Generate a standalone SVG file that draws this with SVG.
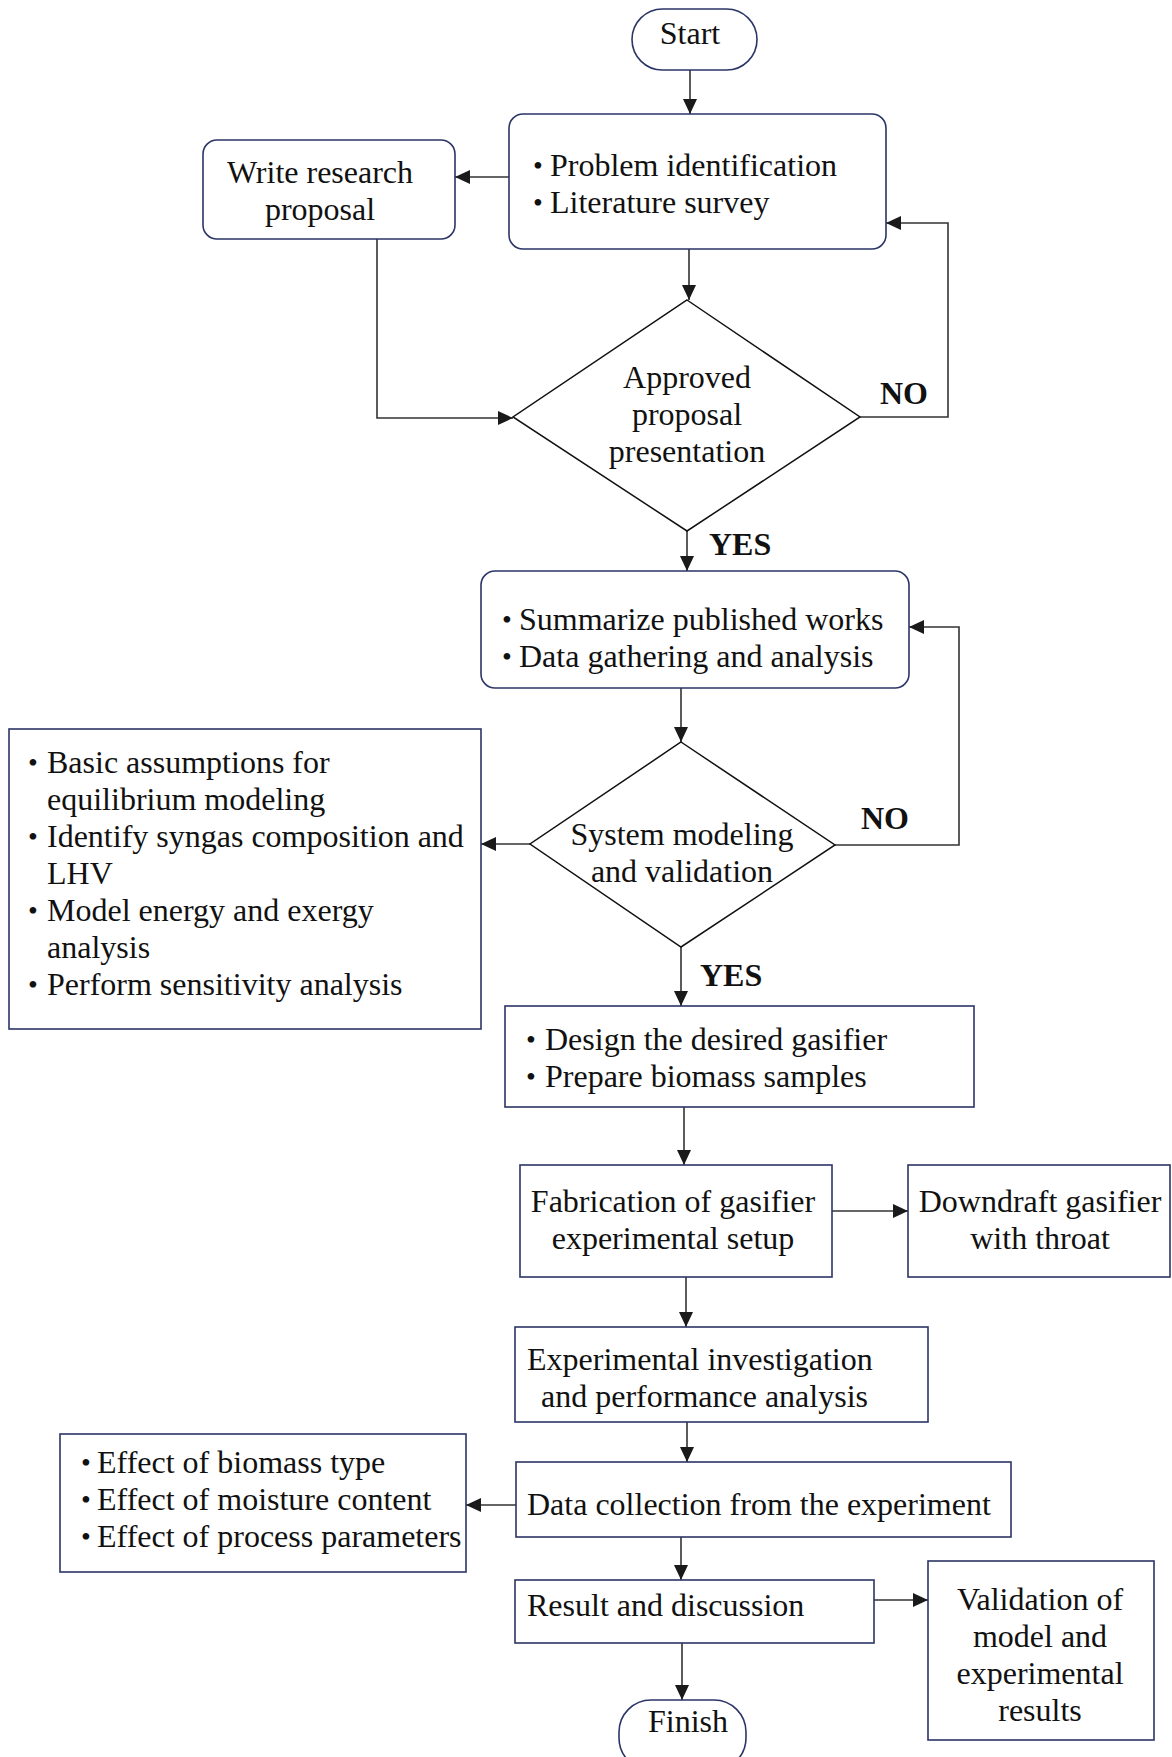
<svg xmlns="http://www.w3.org/2000/svg" width="1172" height="1757" viewBox="0 0 1172 1757">
<style>
.box{fill:#fff;stroke:#2b3566;stroke-width:1.6}
.dia{fill:#fff;stroke:#111;stroke-width:1.5}
.con{fill:none;stroke:#333;stroke-width:1.6}
text{font-family:"Liberation Serif","Times New Roman",serif;font-size:32px;fill:#111}
.c{text-anchor:middle}
.b{font-weight:bold}
.u{font-size:28px}
</style>
<defs>
<marker id="ah" markerUnits="userSpaceOnUse" markerWidth="16" markerHeight="14" refX="15" refY="7" orient="auto">
<path d="M0,0 L15,7 L0,14 z" fill="#1a1a1a"/>
</marker>
</defs>
<rect width="1172" height="1757" fill="#fff"/>
<g id="connectors">
<path class="con" d="M690,70 V114" marker-end="url(#ah)"/>
<path class="con" d="M509,177 H455" marker-end="url(#ah)"/>
<path class="con" d="M689,249 V300" marker-end="url(#ah)"/>
<path class="con" d="M377,239 V418 H513" marker-end="url(#ah)"/>
<path class="con" d="M860,417 H948 V223 H886" marker-end="url(#ah)"/>
<path class="con" d="M687,531 V571" marker-end="url(#ah)"/>
<path class="con" d="M681,688 V742" marker-end="url(#ah)"/>
<path class="con" d="M835,845 H959 V627 H909" marker-end="url(#ah)"/>
<path class="con" d="M530,844 H481" marker-end="url(#ah)"/>
<path class="con" d="M681,947 V1006" marker-end="url(#ah)"/>
<path class="con" d="M684,1107 V1165" marker-end="url(#ah)"/>
<path class="con" d="M832,1211 H908" marker-end="url(#ah)"/>
<path class="con" d="M686,1277 V1327" marker-end="url(#ah)"/>
<path class="con" d="M687,1422 V1462" marker-end="url(#ah)"/>
<path class="con" d="M516,1505 H466" marker-end="url(#ah)"/>
<path class="con" d="M681,1537 V1580" marker-end="url(#ah)"/>
<path class="con" d="M874,1600 H928" marker-end="url(#ah)"/>
<path class="con" d="M682,1643 V1700" marker-end="url(#ah)"/>
<text class="b" x="880" y="404">NO</text>
<text class="b" x="709" y="555">YES</text>
<text class="b" x="861" y="829">NO</text>
<text class="b" x="700" y="986">YES</text>
</g>
<g id="start">
<rect class="box" x="632" y="9" width="125" height="61" rx="30.5"/>
<text class="c" x="690" y="44">Start</text>
</g>
<g id="problem">
<rect class="box" x="509" y="114" width="377" height="135" rx="14"/>
<text class="u" x="533" y="175">•</text><text x="550" y="176">Problem identification</text>
<text class="u" x="533" y="212">•</text><text x="550" y="213">Literature survey</text>
</g>
<g id="write">
<rect class="box" x="203" y="140" width="252" height="99" rx="14"/>
<text class="c" x="320" y="183">Write research</text>
<text class="c" x="320" y="220">proposal</text>
</g>
<g id="approved">
<polygon class="dia" points="687,300 860,417 687,531 513,417"/>
<text class="c" x="687" y="388">Approved</text>
<text class="c" x="687" y="425">proposal</text>
<text class="c" x="687" y="462">presentation</text>
</g>
<g id="summarize">
<rect class="box" x="481" y="571" width="428" height="117" rx="14"/>
<text class="u" x="502" y="629">•</text><text x="519" y="630">Summarize published works</text>
<text class="u" x="502" y="666">•</text><text x="519" y="667">Data gathering and analysis</text>
</g>
<g id="system">
<polygon class="dia" points="681,742 835,845 681,947 530,844"/>
<text class="c" x="682" y="845">System modeling</text>
<text class="c" x="682" y="882">and validation</text>
</g>
<g id="modeling">
<rect class="box" x="9" y="729" width="472" height="300"/>
<text class="u" x="28" y="772">•</text><text x="47" y="773">Basic assumptions for</text>
<text x="47" y="810">equilibrium modeling</text>
<text class="u" x="28" y="846">•</text><text x="47" y="847">Identify syngas composition and</text>
<text x="47" y="884">LHV</text>
<text class="u" x="28" y="920">•</text><text x="47" y="921">Model energy and exergy</text>
<text x="47" y="958">analysis</text>
<text class="u" x="28" y="994">•</text><text x="47" y="995">Perform sensitivity analysis</text>
</g>
<g id="design">
<rect class="box" x="505" y="1006" width="469" height="101"/>
<text class="u" x="526" y="1049">•</text><text x="545" y="1050">Design the desired gasifier</text>
<text class="u" x="526" y="1086">•</text><text x="545" y="1087">Prepare biomass samples</text>
</g>
<g id="fabrication">
<rect class="box" x="520" y="1165" width="312" height="112"/>
<text class="c" x="673" y="1212">Fabrication of gasifier</text>
<text class="c" x="673" y="1249">experimental setup</text>
</g>
<g id="downdraft">
<rect class="box" x="908" y="1165" width="262" height="112"/>
<text class="c" x="1040" y="1212">Downdraft gasifier</text>
<text class="c" x="1040" y="1249">with throat</text>
</g>
<g id="experimental">
<rect class="box" x="515" y="1327" width="413" height="95"/>
<text x="527" y="1370">Experimental investigation</text>
<text x="541" y="1407">and performance analysis</text>
</g>
<g id="datacollection">
<rect class="box" x="516" y="1462" width="495" height="75"/>
<text x="527" y="1515">Data collection from the experiment</text>
</g>
<g id="effects">
<rect class="box" x="60" y="1434" width="406" height="138"/>
<text class="u" x="81" y="1472">•</text><text x="97" y="1473">Effect of biomass type</text>
<text class="u" x="81" y="1509">•</text><text x="97" y="1510">Effect of moisture content</text>
<text class="u" x="81" y="1546">•</text><text x="97" y="1547">Effect of process parameters</text>
</g>
<g id="result">
<rect class="box" x="515" y="1580" width="359" height="63"/>
<text x="527" y="1616">Result and discussion</text>
</g>
<g id="validation">
<rect class="box" x="928" y="1561" width="226" height="179"/>
<text class="c" x="1040" y="1610">Validation of</text>
<text class="c" x="1040" y="1647">model and</text>
<text class="c" x="1040" y="1684">experimental</text>
<text class="c" x="1040" y="1721">results</text>
</g>
<g id="finish">
<rect class="box" x="619" y="1700" width="127" height="70" rx="32"/>
<text class="c" x="688" y="1732">Finish</text>
</g>
</svg>
